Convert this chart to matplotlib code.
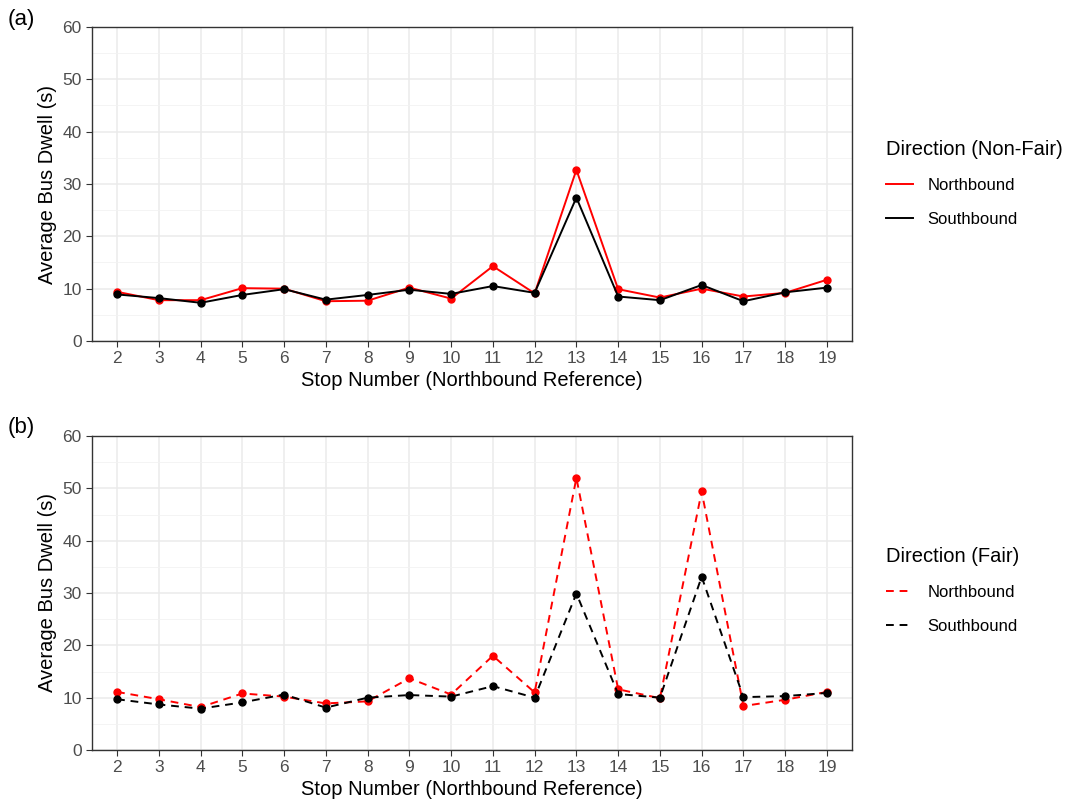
import matplotlib
import matplotlib.pyplot as plt
from matplotlib.lines import Line2D
from matplotlib.ticker import MultipleLocator

matplotlib.use("Agg")

plt.rcParams["font.family"] = ["Liberation Sans", "DejaVu Sans"]

stops = list(range(2, 20))

nonfair_north = [9.4, 7.8, 7.8, 10.1, 10.0, 7.6, 7.7, 10.2, 8.1, 14.3, 9.1, 32.7, 9.9, 8.3, 10.0, 8.5, 9.2, 11.7]
nonfair_south = [8.9, 8.2, 7.3, 8.8, 9.9, 7.9, 8.8, 9.8, 9.0, 10.5, 9.2, 27.4, 8.5, 7.8, 10.7, 7.6, 9.3, 10.2]

fair_north = [11.1, 9.7, 8.2, 10.8, 10.2, 8.9, 9.3, 13.7, 10.6, 18.0, 11.0, 52.0, 11.6, 9.9, 49.4, 8.4, 9.6, 11.1]
fair_south = [9.7, 8.7, 7.9, 9.1, 10.6, 8.1, 10.0, 10.5, 10.2, 12.2, 10.0, 29.9, 10.7, 10.0, 33.1, 10.1, 10.3, 10.9]

RED = "#FF0000"
BLACK = "#000000"


def style_axes(ax):
    ax.set_xlim(1.4, 19.6)
    ax.set_ylim(0, 60)
    ax.set_xticks(stops)
    ax.yaxis.set_major_locator(MultipleLocator(10))
    ax.yaxis.set_minor_locator(MultipleLocator(5))
    ax.grid(True, which="major", color="#EBEBEB", lw=1.1, zorder=0)
    ax.grid(True, which="minor", axis="y", color="#F2F2F2", lw=0.6, zorder=0)
    ax.set_axisbelow(True)
    for spine in ax.spines.values():
        spine.set_color("#333333")
        spine.set_linewidth(1.0)
    ax.tick_params(which="major", length=4, color="#333333", labelsize=12.5, labelcolor="#4D4D4D")
    ax.tick_params(which="minor", length=0)
    ax.set_xlabel("Stop Number (Northbound Reference)", fontsize=14.5, labelpad=3)
    ax.set_ylabel("Average Bus Dwell (s)", fontsize=14.5, labelpad=4)


def add_legend(fig, y_top, title, ls):
    handles = [Line2D([], [], color=RED, lw=1.4, ls=ls),
               Line2D([], [], color=BLACK, lw=1.4, ls=ls)]
    fig.legend(handles, ["Northbound", "Southbound"], title=title,
               loc="upper left", bbox_to_anchor=(871 / 1073, 1 - y_top / 805),
               frameon=False, fontsize=12, title_fontsize=14.5,
               handlelength=1.6, labelspacing=1.15, handletextpad=0.9,
               alignment="left")


fig = plt.figure(figsize=(10.73, 8.05), dpi=100)
W, H = 1073, 805
ax_a = fig.add_axes([92 / W, 1 - 341 / H, (852 - 92) / W, (341 - 27) / H])
ax_b = fig.add_axes([92 / W, 1 - 750 / H, (852 - 92) / W, (750 - 436) / H])

ax_a.plot(stops, nonfair_north, color=RED, lw=1.4, marker="o", ms=5, zorder=3)
ax_a.plot(stops, nonfair_south, color=BLACK, lw=1.4, marker="o", ms=5, zorder=4)
style_axes(ax_a)

ax_b.plot(stops, fair_north, color=RED, lw=1.4, ls=(0, (4, 3)), marker="o", ms=5, zorder=3)
ax_b.plot(stops, fair_south, color=BLACK, lw=1.4, ls=(0, (4, 3)), marker="o", ms=5, zorder=4)
style_axes(ax_b)

fig.text(8 / W, 1 - 20 / H, "(a)", fontsize=16, va="center", ha="left")
fig.text(8 / W, 1 - 428 / H, "(b)", fontsize=16, va="center", ha="left")

add_legend(fig, 125, "Direction (Non-Fair)", "-")
add_legend(fig, 532, "Direction (Fair)", (0, (4, 3)))

fig.savefig("out.png", dpi=100)
plt.close(fig)
